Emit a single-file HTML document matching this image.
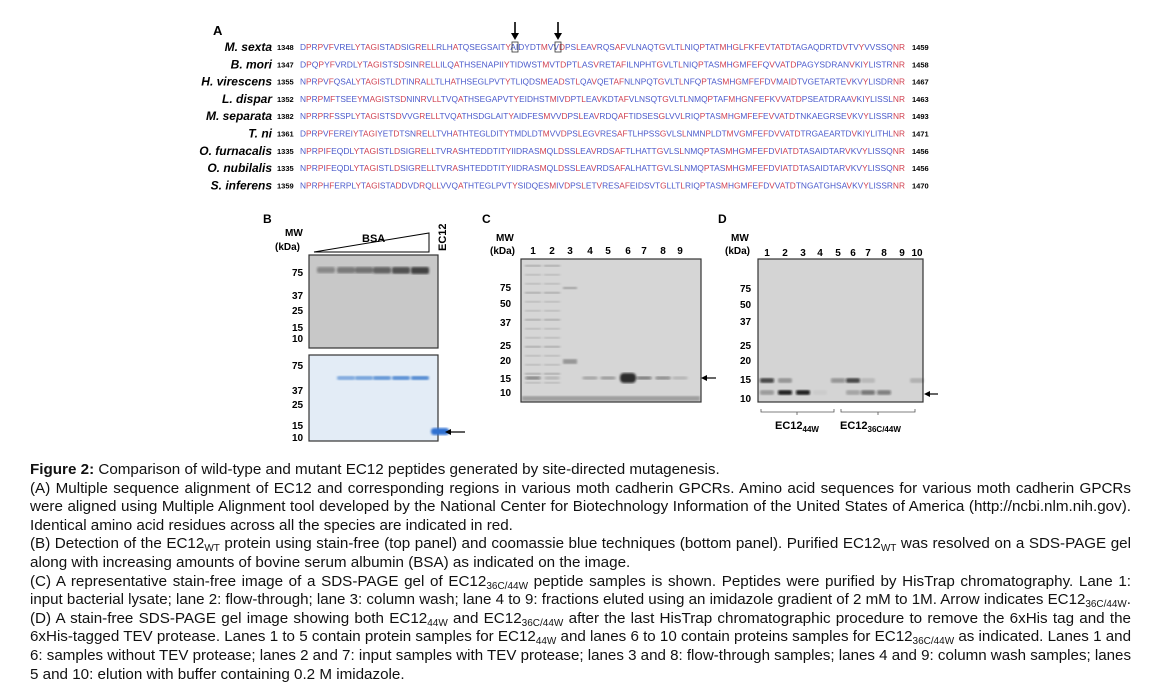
<!DOCTYPE html>
<html><head><meta charset="utf-8"><style>
body{margin:0;background:#fff;width:1162px;height:700px;overflow:hidden;position:relative;font-family:"Liberation Sans",Arial,sans-serif;}
.ln{position:absolute;left:30px;font-size:15.2px;line-height:18px;color:#111;white-space:nowrap;transform-origin:0 0;}
sub{font-size:10px;vertical-align:-3px;line-height:0}
svg{position:absolute;left:0;top:0}
</style></head><body>
<svg id="fig" width="1162" height="460" font-family="Liberation Sans, Arial, sans-serif">
<defs><filter id="bl"><feGaussianBlur stdDeviation="1.1"/></filter></defs>
<text x="213" y="35" font-size="13" font-weight="bold">A</text>
<g id="align"></g>
<g id="arrowsA">
<path d="M515 22 V34" stroke="#000" stroke-width="1.6"/><path d="M511 33 L515 40 L519 33Z"/>
<path d="M558 22 V34" stroke="#000" stroke-width="1.6"/><path d="M554 33 L558 40 L562 33Z"/>
<rect x="512" y="42" width="6" height="10" fill="none" stroke="#333" stroke-width="0.8"/>
<rect x="555" y="42" width="6" height="10" fill="none" stroke="#333" stroke-width="0.8"/>
</g>
<g font-weight="bold" font-size="10">
<text x="263" y="223" font-size="12">B</text>
<text x="285" y="236">MW</text><text x="275" y="250">(kDa)</text>
<path d="M314 252 L429 233 L429 252Z" fill="none" stroke="#000" stroke-width="1"/>
<text x="362" y="242" font-size="11">BSA</text>
<text transform="translate(446,251) rotate(-90)" font-size="11">EC12</text>
<rect x="309" y="255" width="129" height="93" fill="#c8c8c8" stroke="#333" stroke-width="1.2"/>
<rect x="309" y="355" width="129" height="86" fill="#e3ecf6" stroke="#333" stroke-width="1.2"/>
<g id="bandsB"></g>
<g id="mwB"></g>
<path d="M447 432 H465" stroke="#000" stroke-width="1.3"/><path d="M445 432 L451 429 L451 435Z"/>
</g>
<g font-weight="bold" font-size="10">
<text x="482" y="223" font-size="12">C</text>
<text x="496" y="241">MW</text><text x="490" y="254">(kDa)</text>
<rect x="521" y="259" width="180" height="143" fill="#d6d6d6" stroke="#333" stroke-width="1.2"/>
<g id="laneC"></g><g id="mwC"></g><g id="bandsC"></g>
<path d="M703 378 H716" stroke="#000" stroke-width="1.2"/><path d="M701 378 L707 375 L707 381Z"/>
</g>
<g font-weight="bold" font-size="10">
<text x="718" y="223" font-size="12">D</text>
<text x="731" y="241">MW</text><text x="725" y="254">(kDa)</text>
<rect x="758" y="259" width="165" height="143" fill="#d4d4d4" stroke="#333" stroke-width="1.2"/>
<g id="laneD"></g><g id="mwD"></g><g id="bandsD"></g>
<path d="M926 394 H938" stroke="#000" stroke-width="1.2"/><path d="M924 394 L930 391 L930 397Z"/>
<path d="M761 409 V412 H834 V409 M797 412 V415" fill="none" stroke="#555" stroke-width="0.8"/>
<path d="M841 409 V412 H915 V409 M878 412 V415" fill="none" stroke="#555" stroke-width="0.8"/>
<text x="775" y="429" font-size="11">EC12<tspan font-size="8" dy="3">44W</tspan></text>
<text x="840" y="429" font-size="11">EC12<tspan font-size="8" dy="3">36C/44W</tspan></text>
</g>
</svg>

<div class="ln" style="top:461px"><b>Figure 2:</b> Comparison of wild-type and mutant EC12 peptides generated by site-directed mutagenesis.</div>
<div class="ln j" style="top:479.6px">(A) Multiple sequence alignment of EC12 and corresponding regions in various moth cadherin GPCRs. Amino acid sequences for various moth cadherin GPCRs</div>
<div class="ln j" style="top:498.2px">were aligned using Multiple Alignment tool developed by the National Center for Biotechnology Information of the United States of America (http://ncbi.nlm.nih.gov).</div>
<div class="ln" style="top:516.8px">Identical amino acid residues across all the species are indicated in red.</div>
<div class="ln j" style="top:535.4px">(B) Detection of the EC12<sub>WT</sub> protein using stain-free (top panel) and coomassie blue techniques (bottom panel). Purified EC12<sub>WT</sub> was resolved on a SDS-PAGE gel</div>
<div class="ln" style="top:554px">along with increasing amounts of bovine serum albumin (BSA) as indicated on the image.</div>
<div class="ln j" style="top:572.6px">(C) A representative stain-free image of a SDS-PAGE gel of EC12<sub>36C/44W</sub> peptide samples is shown. Peptides were purified by HisTrap chromatography. Lane 1:</div>
<div class="ln j" style="top:591.2px">input bacterial lysate; lane 2: flow-through; lane 3: column wash; lane 4 to 9: fractions eluted using an imidazole gradient of 2 mM to 1M. Arrow indicates EC12<sub>36C/44W</sub>.</div>
<div class="ln j" style="top:609.8px">(D) A stain-free SDS-PAGE gel image showing both EC12<sub>44W</sub> and EC12<sub>36C/44W</sub> after the last HisTrap chromatographic procedure to remove the 6xHis tag and the</div>
<div class="ln j" style="top:628.4px">6xHis-tagged TEV protease. Lanes 1 to 5 contain protein samples for EC12<sub>44W</sub> and lanes 6 to 10 contain proteins samples for EC12<sub>36C/44W</sub> as indicated. Lanes 1 and</div>
<div class="ln j" style="top:647px">6: samples without TEV protease; lanes 2 and 7: input samples with TEV protease; lanes 3 and 8: flow-through samples; lanes 4 and 9: column wash samples; lanes</div>
<div class="ln" style="top:665.6px">5 and 10: elution with buffer containing 0.2 M imidazole.</div>

<script>
// fit justified caption lines
document.querySelectorAll('.ln.j').forEach(el=>{
  const W=1101;const w=el.getBoundingClientRect().width;
  const spaces=(el.textContent.match(/ /g)||[]).length;
  if(w>W){el.style.transform='scaleX('+(W/w)+')';}
  else if(spaces>0){el.style.wordSpacing=((W-w)/spaces)+'px';}
});
const species=["M. sexta","B. mori","H. virescens","L. dispar","M. separata","T. ni","O. furnacalis","O. nubilalis","S. inferens"];
const startNums=[1348,1347,1355,1352,1382,1361,1335,1335,1359];
const endNums=[1459,1458,1467,1463,1493,1471,1456,1456,1470];
const seqs=[
"DPRPVFVRELYTAGISTADSIGRELLRLHATQSEGSAITYAIDYDTMVVDPSLEAVRQSAFVLNAQTGVLTLNIQPTATMHGLFKFEVTATDTAGAQDRTDVTVYVVSSQNR",
"DPQPYFVRDLYTAGISTSDSINRELLILQATHSENAPIIYTIDWSTMVTDPTLASVRETAFILNPHTGVLTLNIQPTASMHGMFEFQVVATDPAGYSDRANVKIYLISTRNR",
"NPRPVFQSALYTAGISTLDTINRALLTLHATHSEGLPVTYTLIQDSMEADSTLQAVQETAFNLNPQTGVLTLNFQPTASMHGMFEFDVMAIDTVGETARTEVKVYLISDRNR",
"NPRPMFTSEEYMAGISTSDNINRVLLTVQATHSEGAPVTYEIDHSTMIVDPTLEAVKDTAFVLNSQTGVLTLNMQPTAFMHGNFEFKVVATDPSEATDRAAVKIYLISSLNR",
"NPRPRFSSPLYTAGISTSDVVGRELLTVQATHSDGLAITYAIDFESMVVDPSLEAVRDQAFTIDSESGLVVLRIQPTASMHGMFEFEVVATDTNKAEGRSEVKVYLISSRNR",
"DPRPVFEREIYTAGIYETDTSNRELLTVHATHTEGLDITYTMDLDTMVVDPSLEGVRESAFTLHPSSGVLSLNMNPLDTMVGMFEFDVVATDTRGAEARTDVKIYLITHLNR",
"NPRPIFEQDLYTAGISTLDSIGRELLTVRASHTEDDTITYIIDRASMQLDSSLEAVRDSAFTLHATTGVLSLNMQPTASMHGMFEFDVIATDTASAIDTARVKVYLISSQNR",
"NPRPIFEQDLYTAGISTLDSIGRELLTVRASHTEDDTITYIIDRASMQLDSSLEAVRDSAFALHATTGVLSLNMQPTASMHGMFEFDVIATDTASAIDTARVKVYLISSQNR",
"NPRPHFERPLYTAGISTADDVDRQLLVVQATHTEGLPVTYSIDQESMIVDPSLETVRESAFEIDSVTGLLTLRIQPTASMHGMFEFDVVATDTNGATGHSAVKVYLISSRNR"];
const NS="http://www.w3.org/2000/svg";
function mk(tag,at,parent,txt){const e=document.createElementNS(NS,tag);for(const k in at)e.setAttribute(k,at[k]);if(txt!==undefined)e.textContent=txt;parent.appendChild(e);return e;}
const al=document.getElementById('align');
const len=Math.min(...seqs.map(s=>s.length));
const x0=300,x1=905;
seqs.forEach((s,r)=>{
  const y=51+r*17.3;
  const nm=mk('text',{x:272,y:y,'text-anchor':'end','font-size':12,'font-weight':'bold','font-style':'italic'},al,species[r]);
  
  
  mk('text',{x:277,y:y-1,'font-size':7.5,'font-weight':'bold'},al,startNums[r]);
  mk('text',{x:912,y:y-1,'font-size':7.5,'font-weight':'bold'},al,endNums[r]);
  const t=mk('text',{x:x0,y:y-1,'font-size':8,textLength:x1-x0,lengthAdjust:'spacingAndGlyphs'},al);
  
  
  for(let i=0;i<len;i++){const c=s[i];const cons=seqs.every(q=>q[i]===c);mk('tspan',{fill:cons?'#d04050':'#4a5acb'},t,c);}
});
const bsaLanes=[326,346,364,382,401,420];
const bsaTop=[0.5,0.6,0.65,0.75,0.9,1.0];
const bsaBot=[0,0.55,0.6,0.7,0.75,0.8];
const gB=document.getElementById('bandsB');
bsaLanes.forEach((x,i)=>{
  const b=mk('rect',{x:x-9,y:267,width:18,height:5+bsaTop[i]*2,rx:2,fill:'#222','fill-opacity':bsaTop[i]*0.8,filter:'url(#bl)'},gB);
  
  
  if(bsaBot[i]>0){const c=mk('rect',{x:x-9,y:376,width:18,height:4,rx:2,fill:'#2a6fc8','fill-opacity':bsaBot[i],filter:'url(#bl)'},gB);
  
  }
});
mk('rect',{x:431,y:428,width:18,height:7,rx:3,fill:'#2e6fd0',filter:'url(#bl)'},gB);
const mwBTop=[["75",276],["37",299],["25",314],["15",331],["10",342]];
const mwBBot=[["75",369],["37",394],["25",408],["15",429],["10",441]];
const mB=document.getElementById('mwB');
mwBTop.concat(mwBBot).forEach(([l,y])=>mk('text',{x:292,y:y,'font-size':10},mB,l));
const lanesC=[533,552,570,590,608,628,644,663,680];
const mwC=[["75",291],["50",307],["37",326],["25",349],["20",364],["15",382],["10",396]];
const lC=document.getElementById('laneC'),mC=document.getElementById('mwC'),bC=document.getElementById('bandsC');
lanesC.forEach((x,i)=>mk('text',{x:x,y:254,'font-size':10,'text-anchor':'middle'},lC,i+1));
mwC.forEach(([l,y])=>mk('text',{x:500,y:y,'font-size':10},mC,l));
const targetC=[0.55,0.2,0,0.3,0.35,1.0,0.6,0.5,0.2];
lanesC.forEach((x,i)=>{if(targetC[i]>0){const h=targetC[i]>0.9?10:3;const b=mk('rect',{x:x-8,y:378-h/2,width:16,height:h,rx:4,fill:'#111','fill-opacity':targetC[i]*0.85,filter:'url(#bl)'},bC);

}});
[0,1].forEach(i=>{for(let k=0;k<14;k++){mk('rect',{x:lanesC[i]-8,y:265+k*9,width:16,height:1.5,fill:'#555','fill-opacity':0.3+0.2*(k%3===0),filter:'url(#bl)'},bC);}});
mk('rect',{x:lanesC[2]-7,y:359,width:14,height:5,fill:'#555','fill-opacity':0.5,filter:'url(#bl)'},bC);
mk('rect',{x:lanesC[2]-7,y:287,width:14,height:2,fill:'#555','fill-opacity':0.5,filter:'url(#bl)'},bC);
mk('rect',{x:522,y:396,width:178,height:5,fill:'#666','fill-opacity':0.5,filter:'url(#bl)'},bC);
const lanesD=[767,785,803,820,838,853,868,884,902,917];
const upperD=[0.85,0.35,0,0,0.4,0.85,0.15,0,0,0.2];
const lowerD=[0.3,1.0,1.0,0.05,0,0.25,0.55,0.5,0,0];
const mwD=[["75",292],["50",308],["37",325],["25",349],["20",364],["15",383],["10",402]];
const lD=document.getElementById('laneD'),mD=document.getElementById('mwD'),bD=document.getElementById('bandsD');
lanesD.forEach((x,i)=>mk('text',{x:x,y:256,'font-size':10,'text-anchor':'middle'},lD,i+1));
mwD.forEach(([l,y])=>mk('text',{x:740,y:y,'font-size':10},mD,l));
lanesD.forEach((x,i)=>{
  if(upperD[i]>0){const b=mk('rect',{x:x-7,y:378,width:14,height:5,rx:2,fill:'#111','fill-opacity':upperD[i]*0.85,filter:'url(#bl)'},bD);
  
  }
  if(lowerD[i]>0){const b=mk('rect',{x:x-7,y:390,width:14,height:5,rx:2,fill:'#111','fill-opacity':lowerD[i]*0.9,filter:'url(#bl)'},bD);
  
  }
});
</script>
</body></html>
